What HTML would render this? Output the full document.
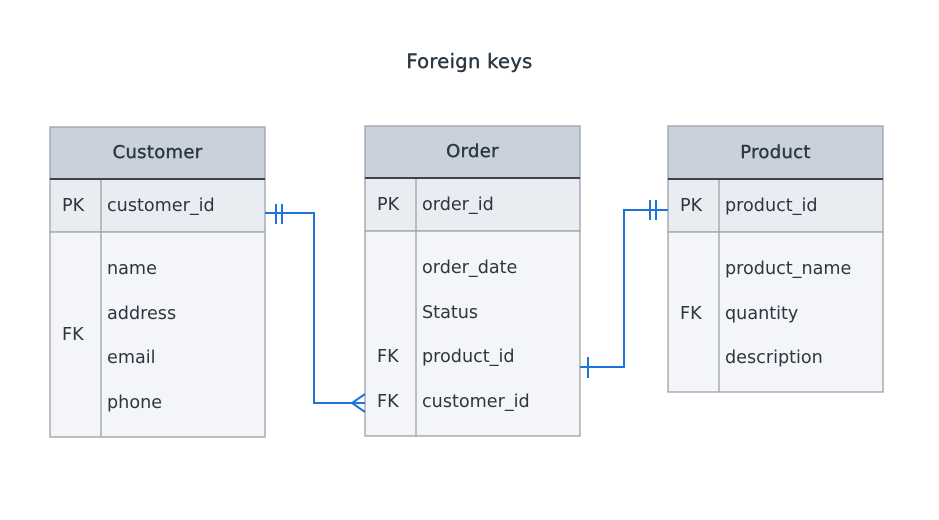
<!DOCTYPE html>
<html><head><style>
body{margin:0;width:939px;height:520px;background:#fff;font-family:"DejaVu Sans",sans-serif;color:#2b3640;position:relative;overflow:hidden}
.t{position:absolute;white-space:nowrap;font-size:17.6px;letter-spacing:0}
.h{-webkit-text-stroke:0.4px #2b3640;font-size:18px;letter-spacing:0.3px}
</style></head><body>
<svg width="939" height="520" style="position:absolute;left:0;top:0">
<g stroke="#9ba1a7" stroke-width="1.3">
<rect x="50" y="127" width="215" height="52" fill="#c9d2da"/>
<rect x="50" y="179" width="215" height="53" fill="#e9edf1"/>
<rect x="50" y="232" width="215" height="205" fill="#f3f5f8"/>
<line x1="101" y1="179" x2="101" y2="437"/>
<rect x="365" y="126" width="215" height="52" fill="#c9d2da"/>
<rect x="365" y="178" width="215" height="53" fill="#e9edf1"/>
<rect x="365" y="231" width="215" height="205" fill="#f3f5f8"/>
<line x1="416" y1="178" x2="416" y2="436"/>
<rect x="668" y="126" width="215" height="53" fill="#c9d2da"/>
<rect x="668" y="179" width="215" height="53" fill="#e9edf1"/>
<rect x="668" y="232" width="215" height="160" fill="#f3f5f8"/>
<line x1="719" y1="179" x2="719" y2="392"/>
</g>
<g stroke="#3a4550" stroke-width="2">
<line x1="50" y1="179" x2="265" y2="179"/>
<line x1="365" y1="178" x2="580" y2="178"/>
<line x1="668" y1="179" x2="883" y2="179"/>
</g>
<g stroke="#1e74d8" stroke-width="2" fill="none">
<polyline points="265,213 314,213 314,403 365,403"/>
<line x1="276" y1="204" x2="276" y2="224"/>
<line x1="282" y1="204" x2="282" y2="224"/>
<polyline points="365,394 352,403 365,412"/>
<polyline points="580,367 624,367 624,210 668,210"/>
<line x1="650" y1="200" x2="650" y2="220"/>
<line x1="656" y1="200" x2="656" y2="220"/>
<line x1="588" y1="357" x2="588" y2="378"/>
</g>
</svg>
<div class="t h" style="left:0;width:939px;text-align:center;top:50px;font-size:19.5px">Foreign keys</div>
<div class="t h" style="left:50px;width:215px;text-align:center;top:142px">Customer</div>
<div class="t h" style="left:365px;width:215px;text-align:center;top:141px">Order</div>
<div class="t h" style="left:668px;width:215px;text-align:center;top:142px">Product</div>

<div class="t" style="left:62px;top:196px">PK</div>
<div class="t" style="left:107px;top:196px">customer_id</div>
<div class="t" style="left:62px;top:325px">FK</div>
<div class="t" style="left:107px;top:259px">name</div>
<div class="t" style="left:107px;top:304px">address</div>
<div class="t" style="left:107px;top:348px">email</div>
<div class="t" style="left:107px;top:393px">phone</div>

<div class="t" style="left:377px;top:195px">PK</div>
<div class="t" style="left:422px;top:195px">order_id</div>
<div class="t" style="left:422px;top:258px">order_date</div>
<div class="t" style="left:422px;top:303px">Status</div>
<div class="t" style="left:377px;top:347px">FK</div>
<div class="t" style="left:422px;top:347px">product_id</div>
<div class="t" style="left:377px;top:392px">FK</div>
<div class="t" style="left:422px;top:392px">customer_id</div>

<div class="t" style="left:680px;top:196px">PK</div>
<div class="t" style="left:725px;top:196px">product_id</div>
<div class="t" style="left:725px;top:259px">product_name</div>
<div class="t" style="left:680px;top:304px">FK</div>
<div class="t" style="left:725px;top:304px">quantity</div>
<div class="t" style="left:725px;top:348px">description</div>
</body></html>
